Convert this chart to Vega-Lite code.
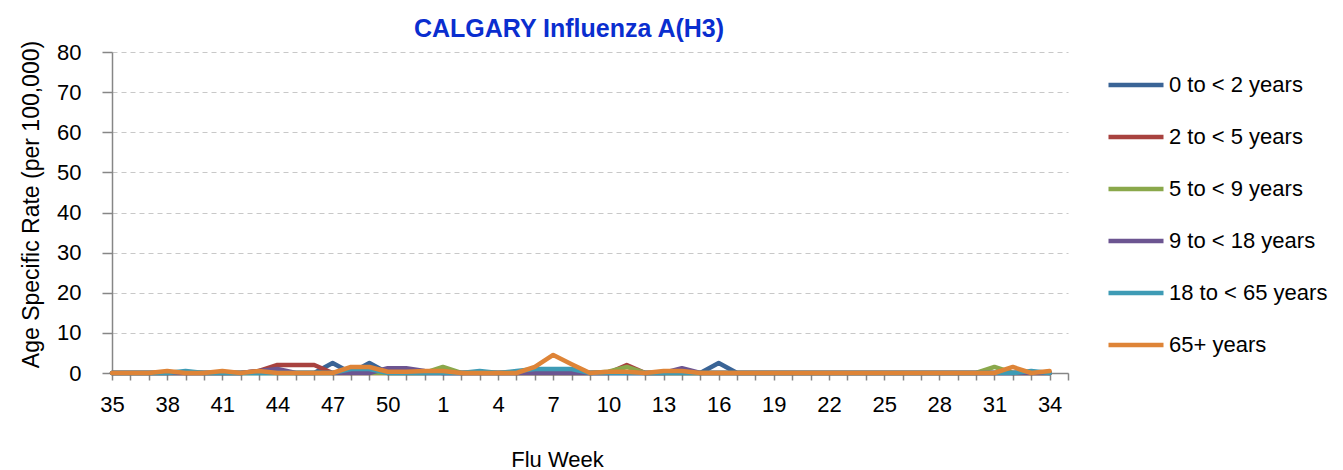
{
  "$schema": "https://vega.github.io/schema/vega-lite/v6.json",
  "width": 956,
  "height": 321,
  "autosize": {"type": "none"},
  "padding": {"left": 112, "top": 52, "right": 275, "bottom": 97},
  "background": "white",
  "config": {
    "font": "Liberation Sans",
    "view": {"stroke": null},
    "axis": {"labelFont": "Liberation Sans", "titleFont": "Liberation Sans", "labelColor": "#000000", "titleColor": "#000000", "titleFontWeight": "normal"}
  },
  "title": {
    "text": "CALGARY Influenza A(H3)",
    "font": "Liberation Sans",
    "fontSize": 25,
    "fontWeight": "bold",
    "color": "#0A2ECF",
    "anchor": "middle",
    "dx": -21,
    "offset": -5
  },
  "data": {
    "values": [
      {"week": "35", "0  to < 2 years": 0, "2 to < 5 years": 0, "5 to < 9 years": 0, "9 to < 18 years": 0, "18 to < 65 years": 0, "65+ years": 0},
      {"week": "36", "0  to < 2 years": 0, "2 to < 5 years": 0, "5 to < 9 years": 0, "9 to < 18 years": 0, "18 to < 65 years": 0, "65+ years": 0},
      {"week": "37", "0  to < 2 years": 0, "2 to < 5 years": 0, "5 to < 9 years": 0, "9 to < 18 years": 0, "18 to < 65 years": 0, "65+ years": 0},
      {"week": "38", "0  to < 2 years": 0, "2 to < 5 years": 0, "5 to < 9 years": 0, "9 to < 18 years": 0, "18 to < 65 years": 0, "65+ years": 0.5},
      {"week": "39", "0  to < 2 years": 0, "2 to < 5 years": 0, "5 to < 9 years": 0, "9 to < 18 years": 0, "18 to < 65 years": 0.5, "65+ years": 0},
      {"week": "40", "0  to < 2 years": 0, "2 to < 5 years": 0, "5 to < 9 years": 0, "9 to < 18 years": 0, "18 to < 65 years": 0, "65+ years": 0},
      {"week": "41", "0  to < 2 years": 0, "2 to < 5 years": 0, "5 to < 9 years": 0, "9 to < 18 years": 0, "18 to < 65 years": 0, "65+ years": 0.5},
      {"week": "42", "0  to < 2 years": 0, "2 to < 5 years": 0, "5 to < 9 years": 0, "9 to < 18 years": 0, "18 to < 65 years": 0, "65+ years": 0},
      {"week": "43", "0  to < 2 years": 0, "2 to < 5 years": 0.5, "5 to < 9 years": 0, "9 to < 18 years": 0.5, "18 to < 65 years": 0, "65+ years": 0.5},
      {"week": "44", "0  to < 2 years": 0, "2 to < 5 years": 2, "5 to < 9 years": 0, "9 to < 18 years": 1, "18 to < 65 years": 0, "65+ years": 0},
      {"week": "45", "0  to < 2 years": 0, "2 to < 5 years": 2, "5 to < 9 years": 0, "9 to < 18 years": 0, "18 to < 65 years": 0, "65+ years": 0},
      {"week": "46", "0  to < 2 years": 0, "2 to < 5 years": 2, "5 to < 9 years": 0, "9 to < 18 years": 0, "18 to < 65 years": 0, "65+ years": 0},
      {"week": "47", "0  to < 2 years": 2.5, "2 to < 5 years": 0, "5 to < 9 years": 0, "9 to < 18 years": 0, "18 to < 65 years": 0, "65+ years": 0},
      {"week": "48", "0  to < 2 years": 0, "2 to < 5 years": 0, "5 to < 9 years": 0, "9 to < 18 years": 0, "18 to < 65 years": 1, "65+ years": 1.5},
      {"week": "49", "0  to < 2 years": 2.5, "2 to < 5 years": 0, "5 to < 9 years": 0, "9 to < 18 years": 0, "18 to < 65 years": 1, "65+ years": 1.5},
      {"week": "50", "0  to < 2 years": 0, "2 to < 5 years": 0, "5 to < 9 years": 0, "9 to < 18 years": 1.2, "18 to < 65 years": 0, "65+ years": 0.3},
      {"week": "51", "0  to < 2 years": 0, "2 to < 5 years": 0, "5 to < 9 years": 0, "9 to < 18 years": 1.2, "18 to < 65 years": 0, "65+ years": 0.3},
      {"week": "52", "0  to < 2 years": 0, "2 to < 5 years": 0, "5 to < 9 years": 0, "9 to < 18 years": 0.5, "18 to < 65 years": 0, "65+ years": 0.5},
      {"week": "1", "0  to < 2 years": 0, "2 to < 5 years": 0, "5 to < 9 years": 1.5, "9 to < 18 years": 0, "18 to < 65 years": 0, "65+ years": 0.5},
      {"week": "2", "0  to < 2 years": 0, "2 to < 5 years": 0, "5 to < 9 years": 0, "9 to < 18 years": 0, "18 to < 65 years": 0, "65+ years": 0},
      {"week": "3", "0  to < 2 years": 0, "2 to < 5 years": 0, "5 to < 9 years": 0, "9 to < 18 years": 0, "18 to < 65 years": 0.5, "65+ years": 0},
      {"week": "4", "0  to < 2 years": 0, "2 to < 5 years": 0, "5 to < 9 years": 0, "9 to < 18 years": 0, "18 to < 65 years": 0, "65+ years": 0},
      {"week": "5", "0  to < 2 years": 0, "2 to < 5 years": 0, "5 to < 9 years": 0, "9 to < 18 years": 0, "18 to < 65 years": 0.5, "65+ years": 0},
      {"week": "6", "0  to < 2 years": 0, "2 to < 5 years": 0, "5 to < 9 years": 0, "9 to < 18 years": 0, "18 to < 65 years": 1, "65+ years": 1.5},
      {"week": "7", "0  to < 2 years": 0, "2 to < 5 years": 0, "5 to < 9 years": 0, "9 to < 18 years": 0, "18 to < 65 years": 1, "65+ years": 4.5},
      {"week": "8", "0  to < 2 years": 0, "2 to < 5 years": 0, "5 to < 9 years": 0, "9 to < 18 years": 0, "18 to < 65 years": 1, "65+ years": 2.2},
      {"week": "9", "0  to < 2 years": 0, "2 to < 5 years": 0, "5 to < 9 years": 0, "9 to < 18 years": 0, "18 to < 65 years": 0, "65+ years": 0},
      {"week": "10", "0  to < 2 years": 0, "2 to < 5 years": 0, "5 to < 9 years": 0.3, "9 to < 18 years": 0, "18 to < 65 years": 0, "65+ years": 0.3},
      {"week": "11", "0  to < 2 years": 0, "2 to < 5 years": 2, "5 to < 9 years": 1.5, "9 to < 18 years": 0, "18 to < 65 years": 0, "65+ years": 0.3},
      {"week": "12", "0  to < 2 years": 0, "2 to < 5 years": 0, "5 to < 9 years": 0, "9 to < 18 years": 0, "18 to < 65 years": 0, "65+ years": 0},
      {"week": "13", "0  to < 2 years": 0, "2 to < 5 years": 0, "5 to < 9 years": 0, "9 to < 18 years": 0, "18 to < 65 years": 0, "65+ years": 0.5},
      {"week": "14", "0  to < 2 years": 0, "2 to < 5 years": 0, "5 to < 9 years": 0, "9 to < 18 years": 1.2, "18 to < 65 years": 0, "65+ years": 0.5},
      {"week": "15", "0  to < 2 years": 0, "2 to < 5 years": 0, "5 to < 9 years": 0, "9 to < 18 years": 0, "18 to < 65 years": 0, "65+ years": 0},
      {"week": "16", "0  to < 2 years": 2.5, "2 to < 5 years": 0, "5 to < 9 years": 0, "9 to < 18 years": 0, "18 to < 65 years": 0, "65+ years": 0},
      {"week": "17", "0  to < 2 years": 0, "2 to < 5 years": 0, "5 to < 9 years": 0, "9 to < 18 years": 0, "18 to < 65 years": 0, "65+ years": 0},
      {"week": "18", "0  to < 2 years": 0, "2 to < 5 years": 0, "5 to < 9 years": 0, "9 to < 18 years": 0, "18 to < 65 years": 0, "65+ years": 0},
      {"week": "19", "0  to < 2 years": 0, "2 to < 5 years": 0, "5 to < 9 years": 0, "9 to < 18 years": 0, "18 to < 65 years": 0, "65+ years": 0},
      {"week": "20", "0  to < 2 years": 0, "2 to < 5 years": 0, "5 to < 9 years": 0, "9 to < 18 years": 0, "18 to < 65 years": 0, "65+ years": 0},
      {"week": "21", "0  to < 2 years": 0, "2 to < 5 years": 0, "5 to < 9 years": 0, "9 to < 18 years": 0, "18 to < 65 years": 0, "65+ years": 0},
      {"week": "22", "0  to < 2 years": 0, "2 to < 5 years": 0, "5 to < 9 years": 0, "9 to < 18 years": 0, "18 to < 65 years": 0, "65+ years": 0},
      {"week": "23", "0  to < 2 years": 0, "2 to < 5 years": 0, "5 to < 9 years": 0, "9 to < 18 years": 0, "18 to < 65 years": 0, "65+ years": 0},
      {"week": "24", "0  to < 2 years": 0, "2 to < 5 years": 0, "5 to < 9 years": 0, "9 to < 18 years": 0, "18 to < 65 years": 0, "65+ years": 0},
      {"week": "25", "0  to < 2 years": 0, "2 to < 5 years": 0, "5 to < 9 years": 0, "9 to < 18 years": 0, "18 to < 65 years": 0, "65+ years": 0},
      {"week": "26", "0  to < 2 years": 0, "2 to < 5 years": 0, "5 to < 9 years": 0, "9 to < 18 years": 0, "18 to < 65 years": 0, "65+ years": 0},
      {"week": "27", "0  to < 2 years": 0, "2 to < 5 years": 0, "5 to < 9 years": 0, "9 to < 18 years": 0, "18 to < 65 years": 0, "65+ years": 0},
      {"week": "28", "0  to < 2 years": 0, "2 to < 5 years": 0, "5 to < 9 years": 0, "9 to < 18 years": 0, "18 to < 65 years": 0, "65+ years": 0},
      {"week": "29", "0  to < 2 years": 0, "2 to < 5 years": 0, "5 to < 9 years": 0, "9 to < 18 years": 0, "18 to < 65 years": 0, "65+ years": 0},
      {"week": "30", "0  to < 2 years": 0, "2 to < 5 years": 0, "5 to < 9 years": 0, "9 to < 18 years": 0, "18 to < 65 years": 0, "65+ years": 0},
      {"week": "31", "0  to < 2 years": 0, "2 to < 5 years": 0, "5 to < 9 years": 1.5, "9 to < 18 years": 0, "18 to < 65 years": 0, "65+ years": 0},
      {"week": "32", "0  to < 2 years": 0, "2 to < 5 years": 0, "5 to < 9 years": 0, "9 to < 18 years": 0, "18 to < 65 years": 0, "65+ years": 1.5},
      {"week": "33", "0  to < 2 years": 0, "2 to < 5 years": 0, "5 to < 9 years": 0, "9 to < 18 years": 0, "18 to < 65 years": 0.5, "65+ years": 0},
      {"week": "34", "0  to < 2 years": 0, "2 to < 5 years": 0, "5 to < 9 years": 0, "9 to < 18 years": 0, "18 to < 65 years": 0, "65+ years": 0.5}
    ]
  },
  "transform": [
    {"fold": ["0  to < 2 years", "2 to < 5 years", "5 to < 9 years", "9 to < 18 years", "18 to < 65 years", "65+ years"], "as": ["group", "rate"]}
  ],
  "mark": {"type": "line", "strokeWidth": 4.5, "strokeJoin": "round", "strokeCap": "round"},
  "encoding": {
    "x": {
      "field": "week",
      "type": "ordinal",
      "scale": {"type": "point", "padding": 0, "domain": ["35","36","37","38","39","40","41","42","43","44","45","46","47","48","49","50","51","52","1","2","3","4","5","6","7","8","9","10","11","12","13","14","15","16","17","18","19","20","21","22","23","24","25","26","27","28","29","30","31","32","33","34","_"]},
      "axis": {
        "title": "Flu Week",
        "titleFontSize": 22,
        "titleX": 445,
        "titleY": 86,
        "titleBaseline": "middle",
        "labelAngle": 0,
        "labelFontSize": 22,
        "labelOverlap": false,
        "labelPadding": 14,
        "labelExpr": "indexof(['35','38','41','44','47','50','1','4','7','10','13','16','19','22','25','28','31','34'], datum.value) >= 0 ? datum.label : ''",
        "tickSize": 7,
        "tickColor": "#868686",
        "tickWidth": 1.5,
        "domainColor": "#868686",
        "domainWidth": 1.5,
        "grid": false
      }
    },
    "y": {
      "field": "rate",
      "type": "quantitative",
      "scale": {"domain": [0, 80], "nice": false},
      "axis": {
        "title": "Age Specific Rate  (per 100,000)",
        "titleFontSize": 23,
        "titleX": -81,
        "titleY": 152,
        "titleAngle": -90,
        "titleBaseline": "middle",
        "values": [0, 10, 20, 30, 40, 50, 60, 70, 80],
        "labelFontSize": 22,
        "labelPadding": 21,
        "tickSize": 10,
        "tickColor": "#868686",
        "tickWidth": 1.5,
        "domainColor": "#868686",
        "domainWidth": 1.5,
        "grid": true,
        "gridColor": "#C8C8C8",
        "gridDash": [5, 4],
        "gridWidth": 1
      }
    },
    "color": {
      "field": "group",
      "type": "nominal",
      "scale": {
        "domain": ["0  to < 2 years", "2 to < 5 years", "5 to < 9 years", "9 to < 18 years", "18 to < 65 years", "65+ years"],
        "range": ["#3A6496", "#A8423F", "#8AA84B", "#6C5591", "#3E9BB5", "#DE8437"]
      },
      "legend": {
        "title": null,
        "orient": "none",
        "legendX": 994,
        "legendY": 3,
        "padding": 0,
        "symbolType": "stroke",
        "symbolSize": 3025,
        "symbolStrokeWidth": 4.5,
        "labelFontSize": 22,
        "labelOffset": 3,
        "labelColor": "#000000",
        "rowPadding": 11
      }
    }
  }
}
